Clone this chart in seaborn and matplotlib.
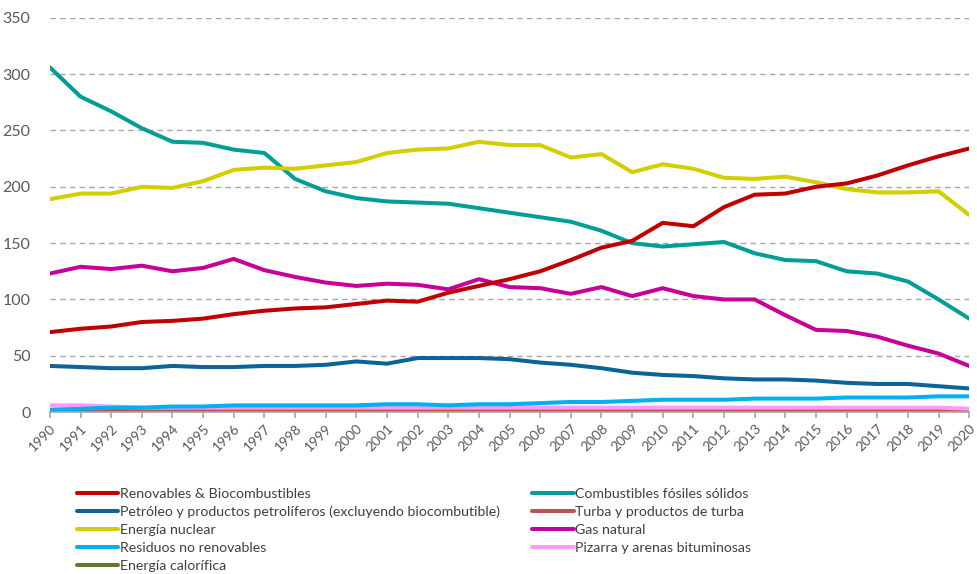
import pandas as pd
import matplotlib.pyplot as plt
import seaborn as sns

years = list(range(1990, 2021))

renovables = [71, 74, 76, 80, 81, 83, 87, 90, 92, 93, 96, 99, 98, 106, 112, 118,
              125, 135, 146, 152, 168, 165, 182, 193, 194, 200, 203, 210, 219, 227, 234]
solidos = [306, 280, 267, 252, 240, 239, 233, 230, 207, 196, 190, 187, 186, 185, 181, 177,
           173, 169, 161, 150, 147, 149, 151, 141, 135, 134, 125, 123, 116, 100, 83]
petroleo = [41, 40, 39, 39, 41, 40, 40, 41, 41, 42, 45, 43, 48, 48, 48, 47,
            44, 42, 39, 35, 33, 32, 30, 29, 29, 28, 26, 25, 25, 23, 21]
turba = [2, 2, 2, 2, 2, 2, 2, 2, 2, 2, 2, 2, 2, 2, 2, 2,
         2, 2, 2, 2, 2, 2, 2, 2, 2, 2, 2, 2, 2, 1, 1]
nuclear = [189, 194, 194, 200, 199, 205, 215, 217, 216, 219, 222, 230, 233, 234, 240, 237,
           237, 226, 229, 213, 220, 216, 208, 207, 209, 204, 198, 195, 195, 196, 175]
gas = [123, 129, 127, 130, 125, 128, 136, 126, 120, 115, 112, 114, 113, 109, 118, 111,
       110, 105, 111, 103, 110, 103, 100, 100, 86, 73, 72, 67, 59, 52, 41]
residuos = [2, 3, 4, 4, 5, 5, 6, 6, 6, 6, 6, 7, 7, 6, 7, 7,
            8, 9, 9, 10, 11, 11, 11, 12, 12, 12, 13, 13, 13, 14, 14]
pizarra = [6, 6, 5, 4, 4, 4, 4, 4, 4, 4, 4, 4, 4, 4, 4, 4,
           4, 4, 4, 4, 4, 4, 4, 4, 4, 4, 4, 4, 4, 4, 3]
calorifica = [1, 1, 1, 1, 1, 1, 1, 1, 1, 1, 1, 1, 1, 1, 1, 1,
              1, 1, 1, 1, 1, 1, 1, 1, 1, 1, 1, 1, 1, 1, 1]

series = {
    "Renovables & Biocombustibles": (renovables, "#C00000"),
    "Petróleo y productos petrolíferos (excluyendo biocombutible)": (petroleo, "#0B6396"),
    "Energía nuclear": (nuclear, "#D2CE00"),
    "Residuos no renovables": (residuos, "#00B0F0"),
    "Energía calorífica": (calorifica, "#5F7A2E"),
    "Combustibles fósiles sólidos": (solidos, "#009E96"),
    "Turba y productos de turba": (turba, "#C0504D"),
    "Gas natural": (gas, "#C8009A"),
    "Pizarra y arenas bituminosas": (pizarra, "#FF99FF"),
}

rows = []
for name, (vals, _) in series.items():
    for y, v in zip(years, vals):
        rows.append({"year": y, "value": v, "serie": name})
df = pd.DataFrame(rows)
palette = {name: c for name, (_, c) in series.items()}

sns.set_theme(style="white")
plt.rcParams['font.family'] = ['Lato', 'DejaVu Sans']

fig = plt.figure(figsize=(9.78, 5.74), dpi=100)
ax = fig.add_axes([0.051, 0.282, 0.94, 0.687])

# draw the bottom-most series first so the main ones sit on top
draw_order = ["Energía calorífica", "Turba y productos de turba", "Pizarra y arenas bituminosas",
              "Residuos no renovables", "Petróleo y productos petrolíferos (excluyendo biocombutible)",
              "Gas natural", "Combustibles fósiles sólidos", "Energía nuclear",
              "Renovables & Biocombustibles"]
for name in draw_order:
    sns.lineplot(data=df[df["serie"] == name], x="year", y="value", color=palette[name],
                 linewidth=2.9, ax=ax, label=name, legend=False)

ax.set_xlim(1990, 2020)
ax.set_ylim(0, 350)
ax.set_yticks(range(0, 351, 50))
ax.set_xticks(years)
ax.set_xticklabels([str(y) for y in years], rotation=45, ha="right", rotation_mode="anchor",
                   fontsize=10, color="#595959")
ax.tick_params(axis="y", labelsize=11.5, labelcolor="#595959", length=0, pad=14)
ax.tick_params(axis="x", length=4, width=1.2, color="#A6A6A6", direction="out", pad=3)
ax.xaxis.set_ticks_position("bottom")
ax.set_xlabel("")
ax.set_ylabel("")
for s in ["top", "right", "left"]:
    ax.spines[s].set_visible(False)
ax.spines["bottom"].set_color("#A6A6A6")
ax.spines["bottom"].set_linewidth(1.2)
for v in range(50, 351, 50):
    ax.axhline(v, color="#A6A6A6", linestyle=(0, (4, 3)), linewidth=1, zorder=0)

handles = {h.get_label(): h for h in ax.get_lines() if h.get_label() in series}
legend_names = list(series.keys())
fig.legend([handles[n] for n in legend_names], legend_names, ncol=2, loc="upper left",
           bbox_to_anchor=(0.073, 0.16), frameon=False, fontsize=10.2,
           handlelength=2.9, handletextpad=0.12, columnspacing=2.3,
           labelspacing=0.42, borderaxespad=0, labelcolor="#404040")

fig.savefig("out.png", dpi=100)
